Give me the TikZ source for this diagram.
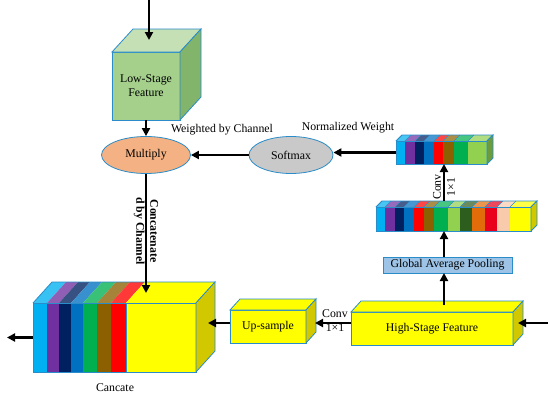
\documentclass[tikz,border=0pt]{standalone}
\usepackage{fontspec}
\setmainfont{Liberation Serif}
\usetikzlibrary{arrows.meta,calc,shapes.geometric}
\definecolor{bordc}{RGB}{42,140,200}
\definecolor{lowF}{RGB}{165,208,140}
\definecolor{lowT}{RGB}{197,224,180}
\definecolor{lowS}{RGB}{130,180,108}
\definecolor{mulF}{RGB}{244,177,131}
\definecolor{smF}{RGB}{201,201,201}
\definecolor{gapF}{RGB}{157,195,230}
\definecolor{cyanS}{RGB}{0,176,240}
\definecolor{purpS}{RGB}{112,48,160}
\definecolor{navyS}{RGB}{0,32,96}
\definecolor{blueS}{RGB}{0,112,192}
\definecolor{redS}{RGB}{255,0,0}
\definecolor{brownS}{RGB}{140,96,0}
\definecolor{greenS}{RGB}{0,176,80}
\definecolor{lgreenS}{RGB}{146,208,80}
\definecolor{dgreenS}{RGB}{46,94,30}
\definecolor{orangeS}{RGB}{227,108,10}
\definecolor{redtS}{RGB}{232,0,28}
\definecolor{peachS}{RGB}{248,203,173}
\definecolor{yelS}{RGB}{255,255,0}
\definecolor{yelD}{RGB}{210,200,0}
\tikzset{
  bd/.style={draw=bordc, line width=0.8pt},
  arr/.style={line width=2.2pt, -{Triangle[length=8pt,width=8pt]}},
  lbl/.style={font=\fontsize{11.8}{14}\selectfont},
  face/.style={bd, inner sep=0pt, outer sep=0pt, align=center, font=\fontsize{11.8}{14}\selectfont},
}
\begin{document}
\begin{tikzpicture}[x=1pt,y=-1pt]
\useasboundingbox (0,0) rectangle (550,400);

% ---------- Low-stage feature cube
\node[face, fill=lowF, minimum width=68pt, minimum height=68pt] (low) at (146,86) {Low-Stage\\Feature};
\draw[bd, fill=lowT] (low.north west) -- ++(21,-23) -- ++(68,0) -- (low.north east) -- cycle;
\draw[bd, fill=lowS] (low.north east) -- ++(21,-23) -- ++(0,68) -- (low.south east) -- cycle;

% ---------- Ellipses
\node[ellipse, bd, fill=mulF, minimum width=89pt, minimum height=37pt, inner sep=0pt, lbl] (mul) at (146,155) {Multiply};
\node[ellipse, bd, fill=smF, minimum width=84pt, minimum height=37pt, inner sep=0pt, lbl] (sm) at (291,155) {Softmax};

% ---------- Normalized weight bar
\foreach \a/\b/\c in {396/405/cyanS,405/415/purpS,415/424/navyS,424/434/blueS,434/443/redS,443/454/brownS,454/468/greenS,468/487/lgreenS}{
  \fill[\c] (\a,141) rectangle (\b,164);
  \fill[\c!72!white] (\a,141) -- (\a+6,135) -- (\b+6,135) -- (\b,141) -- cycle;
  \draw[draw=bordc, line width=0.4pt] (\a,141) -- (\a+6,135);
}
\node[face, minimum width=91pt, minimum height=23pt] (nw) at (441.5,152.5) {};
\draw[bd] (nw.north west) -- ++(6,-6) -- ++(91,0) -- (nw.north east);
\draw[bd, fill=lgreenS!75!black] (nw.north east) -- ++(6,-6) -- ++(0,23) -- (nw.south east) -- cycle;

% ---------- Channel vector after pooling
\foreach \a/\b/\c in {376/385/cyanS,385/395/purpS,395/404/navyS,404/414/blueS,414/424/redS,424/434/brownS,434/448/greenS,448/460/lgreenS,460/472/dgreenS,472/485/orangeS,485/497/redtS,497/510/peachS,510/531/yelS}{
  \fill[\c] (\a,207) rectangle (\b,231);
  \fill[\c!72!white] (\a,207) -- (\a+6,201) -- (\b+6,201) -- (\b,207) -- cycle;
  \draw[draw=bordc, line width=0.4pt] (\a,207) -- (\a+6,201);
}
\node[face, minimum width=155pt, minimum height=24pt] (gw) at (453.5,219) {};
\draw[bd] (gw.north west) -- ++(6,-6) -- ++(155,0) -- (gw.north east);
\draw[bd, fill=yelD] (gw.north east) -- ++(6,-6) -- ++(0,24) -- (gw.south east) -- cycle;

% ---------- Global average pooling
\node[face, fill=gapF, minimum width=129pt, minimum height=16pt] (gap) at (447.5,265) {Global Average Pooling};

% ---------- High-stage feature
\node[face, fill=yelS, minimum width=162pt, minimum height=33pt] (high) at (432,328.5) {High-Stage Feature};
\draw[bd, fill=yelS] (high.north west) -- ++(10,-11) -- ++(162,0) -- (high.north east) -- cycle;
\draw[bd, fill=yelD] (high.north east) -- ++(10,-11) -- ++(0,33) -- (high.south east) -- cycle;

% ---------- Up-sample
\node[face, fill=yelS, minimum width=76pt, minimum height=33pt] (up) at (268,326.5) {Up-sample};
\draw[bd, fill=yelS] (up.north west) -- ++(10,-11) -- ++(76,0) -- (up.north east) -- cycle;
\draw[bd, fill=yelD] (up.north east) -- ++(10,-11) -- ++(0,33) -- (up.south east) -- cycle;

% ---------- Concatenated cube
\foreach \a/\b/\c in {33/47/cyanS,47/59/purpS,59/71/navyS,71/83/blueS,83/97/greenS,97/111/brownS,111/126/redS,126/196/yelS}{
  \fill[\c] (\a,303) rectangle (\b,372);
  \fill[\c!78!white] (\a,303) -- (\a+19,282) -- (\b+19,282) -- (\b,303) -- cycle;
  \draw[draw=bordc, line width=0.4pt] (\a,303) -- (\b,303) -- (\b,372);
}
\fill[yelS] (126,303) -- (145,282) -- (215,282) -- (196,303) -- cycle;
\node[face, minimum width=163pt, minimum height=69pt] (cat) at (114.5,337.5) {};
\draw[bd] (cat.north west) -- ++(19,-21) -- ++(163,0) -- (cat.north east);
\draw[bd] (126,303) -- (126,372);
\draw[bd, fill=yelD] (cat.north east) -- ++(19,-21) -- ++(0,69) -- (cat.south east) -- cycle;
\node[lbl] (cname) at (115,388) {Cancate};

% ---------- Coordinates for free ends
\coordinate (in1) at (149,0);
\coordinate (in1e) at (149,40);
\coordinate (hstop) at (444,305);
\coordinate (hin) at (548,323);
\coordinate (hine) at (518,323);
\coordinate (upin) at (315,323);
\coordinate (catin) at (208,323);
\coordinate (cattop) at (146,293);
\coordinate (out) at (7,338);

% ---------- Connectors
\draw[arr] (in1) -- (in1e);
\draw[arr] (low.south) -- (mul.north);
\draw[arr] (sm.west) -- (mul.east);
\draw[arr] (nw.west) -- (nw.west -| sm.east);
\draw[arr] (hstop) -- (gap.south -| hstop);
\draw[arr] (gap.north -| hstop) -- (gw.south -| hstop);
\draw[arr] ($(gw.north -| hstop)+(0,-6)$) -- (nw.south -| hstop);
\draw[arr] (hin) -- (hine);
\draw[arr] (high.west |- upin) -- (upin);
\draw[arr] (up.west |- catin) -- (catin);
\draw[arr] (mul.south) -- (cattop);
\draw[arr] (cat.west) -- (cat.west -| out);

% ---------- Labels
\node[lbl] (wbc) at (222,130) {Weighted by Channel};
\node[lbl] (nwl) at (348,128) {Normalized Weight};
\node[lbl, font=\fontsize{11.8}{14}\selectfont\bfseries, rotate=-90, align=center] (cbc) at (146,231) {Concatenate\\d by Channel};
\node[lbl, rotate=90, align=center] (cv1) at (444,187) {Conv\\1×1};
\node[lbl, align=center] (cv2) at (335,320.5) {Conv\\1×1};
\end{tikzpicture}
\end{document}
